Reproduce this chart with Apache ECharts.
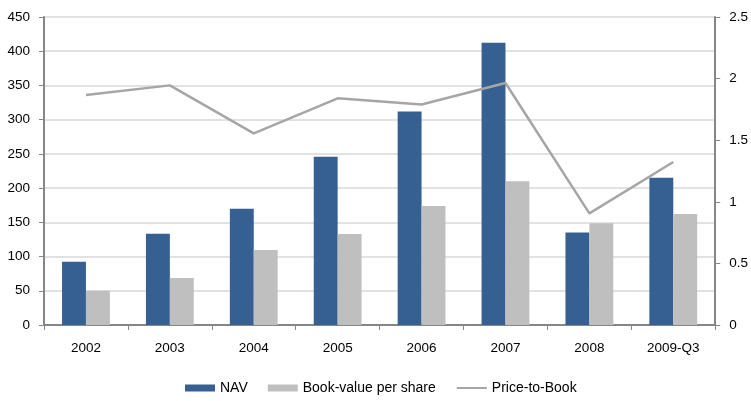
<!DOCTYPE html>
<html>
<head>
<meta charset="utf-8">
<script src="https://cdn.jsdelivr.net/npm/echarts@6/dist/echarts.min.js"></script>
<style>
html,body{margin:0;padding:0;background:#fff;}
#chart{width:751px;height:401px;}
</style>
</head>
<body>
<div id="chart"></div>
<script>
var categories = ['2002','2003','2004','2005','2006','2007','2008','2009-Q3'];
var navValues = [92.5, 133.5, 170, 246, 312, 412.5, 135, 215];
var bookValues = [50, 68.5, 109.5, 133, 174, 210, 148.5, 162];
var priceToBook = [1.867, 1.945, 1.556, 1.84, 1.79, 1.964, 0.906, 1.323];
var leftTicks = {min: 0, max: 450, interval: 50};
var rightTicks = {min: 0, max: 2.5, interval: 0.5};

var font = 'Liberation Sans';
var chart = echarts.init(document.getElementById('chart'), null, {renderer: 'canvas'});
chart.setOption({
  animation: false,
  backgroundColor: '#ffffff',
  textStyle: {fontFamily: font},
  grid: {left: 44, right: 33, top: 17, bottom: 76, containLabel: false},
  legend: {
    bottom: 1,
    left: 180,
    itemWidth: 30,
    itemHeight: 7,
    itemGap: 20,
    textStyle: {fontFamily: font, fontSize: 14, color: '#000'},
    data: [
      {name: 'NAV', icon: 'rect'},
      {name: 'Book-value per share', icon: 'rect'},
      {name: 'Price-to-Book', itemStyle: {opacity: 0}}
    ]
  },
  xAxis: {
    type: 'category',
    data: categories,
    axisLine: {lineStyle: {color: '#868686', width: 2}},
    axisTick: {show: true, length: 5, lineStyle: {color: '#868686'}},
    axisLabel: {color: '#000', fontSize: 13.5, fontFamily: font, margin: 16}
  },
  yAxis: [
    {
      type: 'value',
      min: leftTicks.min, max: leftTicks.max, interval: leftTicks.interval,
      axisLine: {show: true, lineStyle: {color: '#868686', width: 2}},
      axisTick: {show: true, length: 5, lineStyle: {color: '#868686'}},
      axisLabel: {color: '#000', fontSize: 13.5, fontFamily: font, margin: 14},
      splitLine: {show: true, lineStyle: {color: '#d9d9d9', width: 1.5}}
    },
    {
      type: 'value',
      min: rightTicks.min, max: rightTicks.max, interval: rightTicks.interval,
      position: 'right',
      axisLine: {show: true, lineStyle: {color: '#868686', width: 2}},
      axisTick: {show: true, length: 5, lineStyle: {color: '#868686'}},
      axisLabel: {color: '#000', fontSize: 13.5, fontFamily: font, margin: 14},
      splitLine: {show: false}
    }
  ],
  series: [
    {
      name: 'NAV', type: 'bar', data: navValues,
      barGap: '0%', barCategoryGap: '43%',
      itemStyle: {color: '#376092'}
    },
    {
      name: 'Book-value per share', type: 'bar', data: bookValues,
      barGap: '0%', barCategoryGap: '43%',
      itemStyle: {color: '#bfbfbf'}
    },
    {
      name: 'Price-to-Book', type: 'line', yAxisIndex: 1, data: priceToBook,
      symbol: 'none',
      lineStyle: {color: '#a6a6a6', width: 2.5},
      itemStyle: {color: '#a6a6a6'}
    }
  ]
});
</script>
</body>
</html>
